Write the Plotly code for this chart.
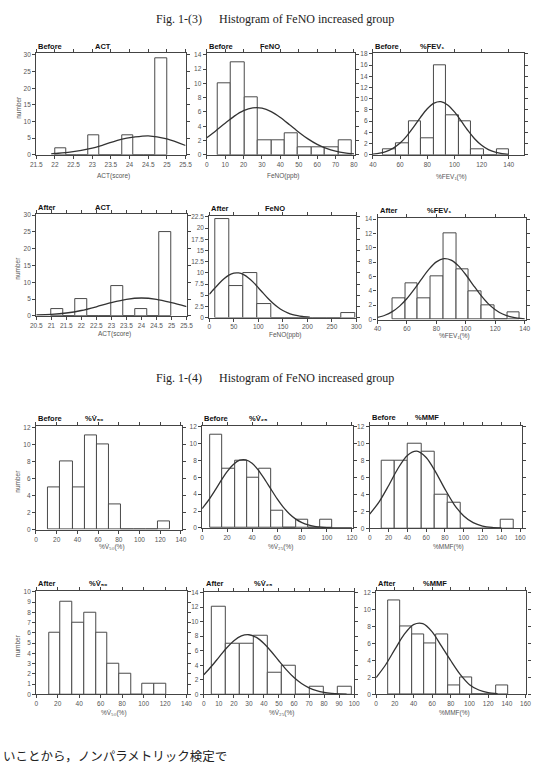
import plotly.graph_objects as go

W, H = 540, 780

# ---------------- data ----------------
# Fig. 1-(3)  Before
act_before_start, act_before_width = 22.0, 0.3
act_before_counts = [2, 0, 0, 6, 0, 0, 6, 0, 0, 29]
act_before_curve_x = [21.9, 22.0, 22.4, 23.0, 23.3, 23.8, 24.1, 24.5, 25.0, 25.5]
act_before_curve_y = [0.3, 0.4, 0.8, 2.0, 3.0, 4.75, 5.3, 5.7, 4.8, 2.8]

feno_before_start, feno_before_width = 6.0, 7.28
feno_before_counts = [10, 13, 8, 2, 2, 3, 1, 1, 1, 2]
feno_before_curve_x = [0, 5, 10, 15, 20, 25, 30, 35, 40, 45, 50, 55, 60, 65, 70, 75, 80]
feno_before_curve_y = [2.4, 3.38, 4.42, 5.41, 6.17, 6.56, 6.52, 6.04, 5.22, 4.21, 3.17, 2.23, 1.46, 0.89, 0.51, 0.27, 0.14]

fev_before_start, fev_before_width = 47.7, 9.25
fev_before_counts = [1, 2, 6, 3, 16, 7, 6, 1, 0, 1]
fev_before_curve_x = [40, 45, 50, 55, 60, 65, 70, 75, 80, 85, 90, 95, 100, 105, 110, 115, 120, 125, 130, 135, 140]
fev_before_curve_y = [0.13, 0.3, 0.62, 1.2, 2.1, 3.38, 4.97, 6.69, 8.22, 9.23, 9.48, 8.9, 7.65, 6.0, 4.31, 2.83, 1.7, 0.93, 0.47, 0.21, 0.09]

# Fig. 1-(3)  After
act_after_start, act_after_width = 21.0, 0.4
act_after_counts = [2, 0, 5, 0, 0, 9, 0, 2, 0, 25]
act_after_curve_x = [20.5, 21.0, 21.5, 22.0, 22.5, 23.0, 23.5, 24.0, 24.5, 25.0, 25.5]
act_after_curve_y = [0.3, 0.45, 0.85, 1.6, 2.71, 3.94, 4.93, 5.32, 4.93, 3.94, 2.75]

feno_after_start, feno_after_width = 12.0, 28.5
feno_after_counts = [22, 7, 10, 3, 0, 0, 0, 0, 0, 1]
feno_after_curve_x = [0, 10, 20, 30, 40, 50, 60, 70, 80, 90, 100, 110, 120, 130, 140, 150, 160, 170, 180, 190, 205]
feno_after_curve_y = [5.19, 6.44, 7.63, 8.69, 9.48, 9.93, 9.97, 9.6, 8.87, 7.86, 6.68, 5.45, 4.26, 3.2, 2.3, 1.59, 1.05, 0.67, 0.41, 0.24, 0.08]

fev_after_start, fev_after_width = 50.2, 8.65
fev_after_counts = [3, 5, 3, 6, 12, 7, 4, 2, 0, 1]
fev_after_curve_x = [40, 45, 50, 55, 60, 65, 70, 75, 80, 85, 90, 95, 100, 105, 110, 115, 120, 125, 130, 135, 140]
fev_after_curve_y = [0.3, 0.6, 1.1, 1.87, 2.93, 4.24, 5.67, 7.02, 8.03, 8.49, 8.29, 7.48, 6.24, 4.81, 3.43, 2.25, 1.37, 0.77, 0.4, 0.19, 0.09]

# Fig. 1-(4)  Before
v50_before_start, v50_before_width = 11.7, 11.8
v50_before_counts = [5, 8, 5, 11, 10, 3, 0, 0, 0, 1]

v25_before_start, v25_before_width = 6.5, 9.8
v25_before_counts = [11, 7, 8, 6, 7, 2, 0, 1, 0, 1]
v25_before_curve_x = [0, 5, 10, 15, 20, 25, 30, 35, 40, 45, 50, 55, 60, 65, 70, 75, 80, 85, 90, 95, 100, 110, 120]
v25_before_curve_y = [2.29, 3.26, 4.38, 5.56, 6.66, 7.52, 8.02, 8.06, 7.65, 6.85, 5.79, 4.62, 3.47, 2.47, 1.65, 1.04, 0.62, 0.35, 0.19, 0.09, 0.04, 0.01, 0.0]

mmf_before_start, mmf_before_width = 12.5, 14.1
mmf_before_counts = [8, 8, 10, 9, 4, 3, 0, 0, 0, 1]
mmf_before_curve_x = [0, 10, 20, 30, 40, 50, 60, 70, 80, 90, 100, 110, 120, 130, 140]
mmf_before_curve_y = [1.67, 3.11, 5.02, 7.05, 8.59, 9.09, 8.35, 6.66, 4.62, 2.77, 1.45, 0.66, 0.26, 0.09, 0.03]

# Fig. 1-(4)  After
v50_after_start, v50_after_width = 11.9, 10.9
v50_after_counts = [6, 9, 7, 8, 6, 3, 2, 0, 1, 1]

v25_after_start, v25_after_width = 5.5, 9.3
v25_after_counts = [12, 7, 7, 8, 3, 4, 0, 1, 0, 1]
v25_after_curve_x = [0, 5, 10, 15, 20, 25, 30, 35, 40, 45, 50, 55, 60, 65, 70, 75, 80, 85, 90, 95]
v25_after_curve_y = [2.7, 3.83, 5.09, 6.33, 7.37, 8.03, 8.19, 7.82, 6.99, 5.85, 4.58, 3.36, 2.3, 1.48, 0.89, 0.5, 0.26, 0.13, 0.06, 0.03]

mmf_after_start, mmf_after_width = 13.0, 12.8
mmf_after_counts = [11, 8, 7, 6, 7, 1, 2, 0, 0, 1]
mmf_after_curve_x = [0, 10, 20, 30, 40, 50, 60, 70, 80, 90, 100, 110, 120, 130]
mmf_after_curve_y = [1.97, 3.45, 5.28, 7.05, 8.2, 8.31, 7.35, 5.66, 3.95, 2.35, 1.14, 0.51, 0.2, 0.07]

# ---------------- styling ----------------
BAR_LINE = '#4a4a4a'
CURVE = '#333333'
FRAME = '#444444'
TICK_FONT = dict(family='Liberation Sans, DejaVu Sans, sans-serif', size=6.5, color='#555555')
HEAD_FONT = dict(family='Liberation Sans, DejaVu Sans, sans-serif', size=7.5, color='#111111', weight='bold')
TITLE_FONT = dict(family='Liberation Sans, DejaVu Sans, sans-serif', size=6.5, color='#555555')

FEV1 = '%FEV\u2081'
V50 = '%V\u0307\u2085\u2080'
V25 = '%V\u0307\u2082\u2085'

panels = [
    # box = (left, top, right, bottom) in px
    dict(start=act_before_start, width=act_before_width, counts=act_before_counts,
         cx=act_before_curve_x, cy=act_before_curve_y, box=(31, 50.7, 184, 153),
         xr=[21.5, 25.5], xd=0.5, x0=21.5, yr=[0, 30.5], yd=5, state='Before', head='ACT', hx=99,
         hy=43.5, xt='ACT(score)', xty=174, ylab=True),
    dict(start=feno_before_start, width=feno_before_width, counts=feno_before_counts,
         cx=feno_before_curve_x, cy=feno_before_curve_y, box=(205.7, 50.7, 357.5, 153),
         xr=[0, 80.5], xd=10, x0=0, yr=[0, 14.2], yd=2, state='Before', head='FeNO', hx=271,
         hy=43.5, xt='FeNO(ppb)', xty=174, ylab=False),
    dict(start=fev_before_start, width=fev_before_width, counts=fev_before_counts,
         cx=fev_before_curve_x, cy=fev_before_curve_y, box=(376, 50.7, 530.5, 153),
         xr=[40, 151], xd=20, x0=40, yr=[0, 18.1], yd=2, state='Before', head=FEV1, hx=436.5,
         hy=43.5, xt=FEV1 + '(%)', xty=175, ylab=False),
    dict(start=act_after_start, width=act_after_width, counts=act_after_counts,
         cx=act_after_curve_x, cy=act_after_curve_y, box=(31, 212.7, 185, 315.3),
         xr=[20.5, 25.5], xd=0.5, x0=20.5, yr=[0, 30.3], yd=5, state='After', head='ACT', hx=99.5,
         hy=205.7, xt='ACT(score)', xty=334, ylab=True),
    dict(start=feno_after_start, width=feno_after_width, counts=feno_after_counts,
         cx=feno_after_curve_x, cy=feno_after_curve_y, box=(208.3, 214.7, 359, 317),
         xr=[0, 300], xd=50, x0=0, yr=[0, 22.7], yd=2.5, state='After', head='FeNO', hx=275.5,
         hy=207.3, xt='FeNO(ppb)', xty=335, ylab=False),
    dict(start=fev_after_start, width=fev_after_width, counts=fev_after_counts,
         cx=fev_after_curve_x, cy=fev_after_curve_y, box=(380.7, 217, 533, 319),
         xr=[40, 141], xd=20, x0=40, yr=[0, 14.1], yd=2, state='After', head=FEV1, hx=444,
         hy=209, xt=FEV1 + '(%)', xty=336, ylab=False),
    dict(start=v50_before_start, width=v50_before_width, counts=v50_before_counts,
         cx=None, cy=None, box=(30.7, 426.7, 180.3, 530.7),
         xr=[0, 141], xd=20, x0=0, yr=[0, 12.1], yd=2, state='Before', head=V50, hx=91,
         hy=419, xt=V50 + '(%)', xty=548, ylab=True),
    dict(start=v25_before_start, width=v25_before_width, counts=v25_before_counts,
         cx=v25_before_curve_x, cy=v25_before_curve_y, box=(201, 426, 355.7, 529),
         xr=[0, 121], xd=20, x0=0, yr=[0, 12.1], yd=2, state='Before', head=V25, hx=259,
         hy=418.3, xt=V25 + '(%)', xty=548, ylab=False),
    dict(start=mmf_before_start, width=mmf_before_width, counts=mmf_before_counts,
         cx=mmf_before_curve_x, cy=mmf_before_curve_y, box=(372.7, 426, 528.3, 529.3),
         xr=[0, 161.5], xd=20, x0=0, yr=[0, 12.1], yd=2, state='Before', head='%MMF', hx=431,
         hy=417.5, xt='%MMF(%)', xty=548, ylab=False),
    dict(start=v50_after_start, width=v50_after_width, counts=v50_after_counts,
         cx=None, cy=None, box=(31, 592.3, 185, 696.7),
         xr=[0, 140], xd=20, x0=0, yr=[0, 10.1], yd=1, state='After', head=V50, hx=95,
         hy=585, xt=V50 + '(%)', xty=715, ylab=True),
    dict(start=v25_after_start, width=v25_after_width, counts=v25_after_counts,
         cx=v25_after_curve_x, cy=v25_after_curve_y, box=(202.7, 593.3, 356.7, 696.7),
         xr=[0, 100], xd=10, x0=0, yr=[0, 14.1], yd=2, state='After', head=V25, hx=264,
         hy=585, xt=V25 + '(%)', xty=715, ylab=False),
    dict(start=mmf_after_start, width=mmf_after_width, counts=mmf_after_counts,
         cx=mmf_after_curve_x, cy=mmf_after_curve_y, box=(379.3, 593, 533.3, 696.7),
         xr=[0, 161], xd=20, x0=0, yr=[0, 12.1], yd=2, state='After', head='%MMF', hx=439.5,
         hy=585, xt='%MMF(%)', xty=715, ylab=False),
]


def px(x):
    return x / W


def py(y):
    return 1 - y / H


fig = go.Figure()
annotations = []
layout_axes = {}

for i, p in enumerate(panels, start=1):
    sx = '' if i == 1 else str(i)
    xa, ya = 'x' + sx, 'y' + sx
    edges = [p['start'] + k * p['width'] for k in range(len(p['counts']))]
    fig.add_trace(go.Bar(
        x=edges, y=p['counts'], width=p['width'], offset=0,
        marker=dict(color='white', line=dict(color=BAR_LINE, width=1)),
        xaxis=xa, yaxis=ya, showlegend=False, hoverinfo='skip'))
    if p['cx'] is not None:
        fig.add_trace(go.Scatter(
            x=p['cx'], y=p['cy'], mode='lines',
            line=dict(color=CURVE, width=1.3, shape='spline', smoothing=0.8),
            xaxis=xa, yaxis=ya, showlegend=False, hoverinfo='skip'))
    l, t, r, b = p['box']
    common = dict(showline=True, linecolor=FRAME, linewidth=1.2, mirror='ticks',
                  ticks='outside', ticklen=3, tickwidth=1, tickcolor=FRAME,
                  showgrid=False, zeroline=False, tickfont=TICK_FONT, fixedrange=True)
    layout_axes['xaxis' + sx] = dict(domain=[px(l), px(r)], anchor=ya, range=p['xr'],
                                     tick0=p['x0'], dtick=p['xd'], **common)
    layout_axes['yaxis' + sx] = dict(domain=[py(b), py(t)], anchor=xa, range=p['yr'],
                                     tick0=0, dtick=p['yd'], **common)
    # headers
    annotations.append(dict(x=px(l), y=py(p['hy']), xref='paper', yref='paper',
                            text=p['state'], showarrow=False,
                            xanchor='left', yanchor='middle', font=HEAD_FONT))
    annotations.append(dict(x=px(p['hx']), y=py(p['hy']), xref='paper', yref='paper',
                            text=p['head'], showarrow=False,
                            xanchor='center', yanchor='middle', font=HEAD_FONT))
    annotations.append(dict(x=px((l + r) / 2 + 3), y=py(p['xty']), xref='paper', yref='paper',
                            text=p['xt'], showarrow=False, xanchor='center', yanchor='middle',
                            font=TITLE_FONT))
    if p['ylab']:
        annotations.append(dict(x=px(12), y=py((t + b) / 2 + 3), xref='paper', yref='paper',
                                text='number', textangle=-90, showarrow=False,
                                xanchor='center', yanchor='middle', font=TITLE_FONT))

SERIF = dict(family='Liberation Serif, Times New Roman, serif', size=12, color='#222222')
annotations += [
    dict(x=px(152), y=py(16), xref='paper', yref='paper', text='Fig. 1-(3)', showarrow=False,
         xanchor='left', yanchor='middle', font=SERIF),
    dict(x=px(216), y=py(16), xref='paper', yref='paper', text='Histogram of FeNO increased group',
         showarrow=False, xanchor='left', yanchor='middle', font=SERIF),
    dict(x=px(152), y=py(378), xref='paper', yref='paper', text='Fig. 1-(4)', showarrow=False,
         xanchor='left', yanchor='middle', font=SERIF),
    dict(x=px(216), y=py(378), xref='paper', yref='paper', text='Histogram of FeNO increased group',
         showarrow=False, xanchor='left', yanchor='middle', font=SERIF),
    dict(x=px(-5), y=py(758), xref='paper', yref='paper', text='いことから，ノンパラメトリック検定で',
         showarrow=False, xanchor='left', yanchor='middle',
         font=dict(family='Noto Sans CJK JP', size=12.5, color='#222222')),
]

fig.update_layout(
    width=W, height=H, margin=dict(l=0, r=0, t=0, b=0),
    paper_bgcolor='white', plot_bgcolor='white',
    barmode='overlay', bargap=0,
    annotations=annotations, showlegend=False,
    **layout_axes)

fig.write_html('out.html', config=dict(displayModeBar=False))
